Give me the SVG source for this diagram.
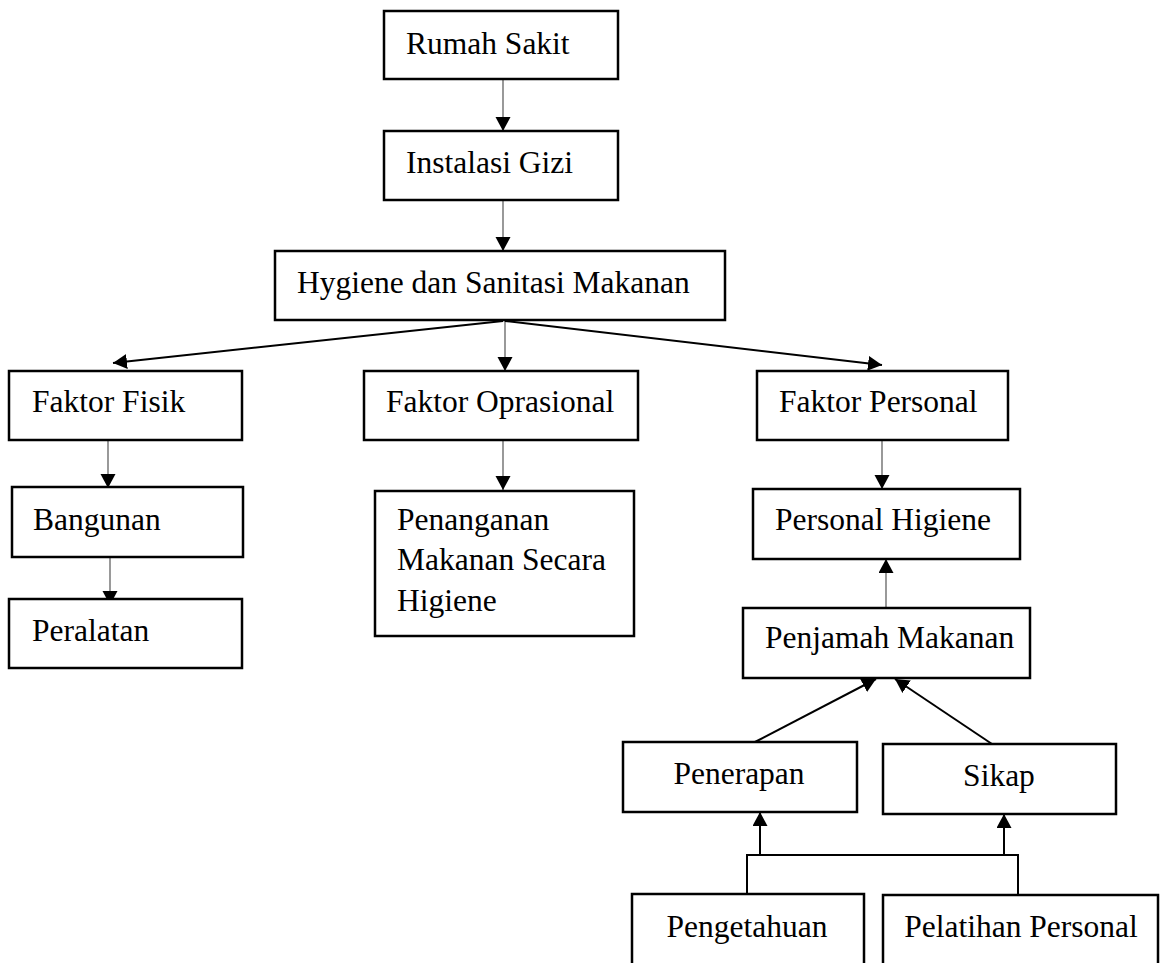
<svg xmlns="http://www.w3.org/2000/svg" width="1162" height="963" viewBox="0 0 1162 963">
<style>
.box{fill:#fff;stroke:#000;stroke-width:2.5}
.t{font-family:"Liberation Serif","Times New Roman",serif;font-size:31.5px;fill:#000}
.c{text-anchor:middle}
.g{stroke:#808080;stroke-width:1.6;fill:none}
.k{stroke:#000;stroke-width:2;fill:none}
</style>
<defs>
<marker id="ah" markerUnits="userSpaceOnUse" markerWidth="15" markerHeight="16" refX="14" refY="7.5" orient="auto" viewBox="0 0 15 16">
<path d="M0,0 L14,7.5 L0,15 z" fill="#000"/>
</marker>
</defs>
<rect width="1162" height="963" fill="#fff"/>
<g id="connectors">
<line class="g" x1="503" y1="79" x2="503" y2="131" marker-end="url(#ah)"/>
<line class="g" x1="503" y1="200" x2="503" y2="251" marker-end="url(#ah)"/>
<line class="k" x1="503" y1="321" x2="113" y2="363" marker-end="url(#ah)"/>
<line class="g" x1="505" y1="321" x2="505" y2="371" marker-end="url(#ah)"/>
<line class="k" x1="505" y1="321" x2="882" y2="365" marker-end="url(#ah)"/>
<line class="g" x1="108" y1="440" x2="108" y2="488" marker-end="url(#ah)"/>
<line class="g" x1="110" y1="557" x2="110" y2="605" marker-end="url(#ah)"/>
<line class="g" x1="503" y1="440" x2="503" y2="490" marker-end="url(#ah)"/>
<line class="g" x1="882" y1="440" x2="882" y2="489" marker-end="url(#ah)"/>
<line class="g" x1="886" y1="608" x2="886" y2="559" marker-end="url(#ah)"/>
<line class="k" x1="755" y1="742" x2="876" y2="679" marker-end="url(#ah)"/>
<line class="k" x1="992" y1="744" x2="895" y2="679" marker-end="url(#ah)"/>
<polyline class="k" points="747,894 747,855 1018,855 1018,895"/>
<line class="k" x1="760" y1="855" x2="760" y2="812" marker-end="url(#ah)"/>
<line class="k" x1="1004" y1="855" x2="1004" y2="814" marker-end="url(#ah)"/>
</g>
<g id="rumah-sakit"><rect class="box" x="384" y="11" width="234" height="68"/><text class="t" x="406" y="54">Rumah Sakit</text></g>
<g id="instalasi-gizi"><rect class="box" x="384" y="131" width="234" height="69"/><text class="t" x="406" y="173">Instalasi Gizi</text></g>
<g id="hygiene"><rect class="box" x="275" y="251" width="450" height="69"/><text class="t" x="297" y="293">Hygiene dan Sanitasi Makanan</text></g>
<g id="faktor-fisik"><rect class="box" x="9" y="371" width="233" height="69"/><text class="t" x="32" y="412">Faktor Fisik</text></g>
<g id="faktor-oprasional"><rect class="box" x="364" y="371" width="274" height="69"/><text class="t" x="386" y="412">Faktor Oprasional</text></g>
<g id="faktor-personal"><rect class="box" x="757" y="371" width="251" height="69"/><text class="t" x="779" y="412">Faktor Personal</text></g>
<g id="bangunan"><rect class="box" x="12" y="487" width="231" height="70"/><text class="t" x="33" y="530">Bangunan</text></g>
<g id="peralatan"><rect class="box" x="9" y="599" width="233" height="69"/><text class="t" x="32" y="641">Peralatan</text></g>
<g id="penanganan"><rect class="box" x="375" y="491" width="259" height="145"/><text class="t" x="397" y="530">Penanganan</text><text class="t" x="397" y="570">Makanan Secara</text><text class="t" x="397" y="611">Higiene</text></g>
<g id="personal-higiene"><rect class="box" x="753" y="489" width="267" height="70"/><text class="t" x="775" y="530">Personal Higiene</text></g>
<g id="penjamah"><rect class="box" x="743" y="608" width="287" height="70"/><text class="t" x="765" y="648">Penjamah Makanan</text></g>
<g id="penerapan"><rect class="box" x="623" y="742" width="234" height="70"/><text class="t c" x="739" y="784">Penerapan</text></g>
<g id="sikap"><rect class="box" x="883" y="744" width="233" height="70"/><text class="t c" x="999" y="786">Sikap</text></g>
<g id="pengetahuan"><rect class="box" x="632" y="894" width="232" height="90"/><text class="t c" x="747" y="937">Pengetahuan</text></g>
<g id="pelatihan"><rect class="box" x="883" y="895" width="275" height="90"/><text class="t c" x="1021" y="937">Pelatihan Personal</text></g>
</svg>
